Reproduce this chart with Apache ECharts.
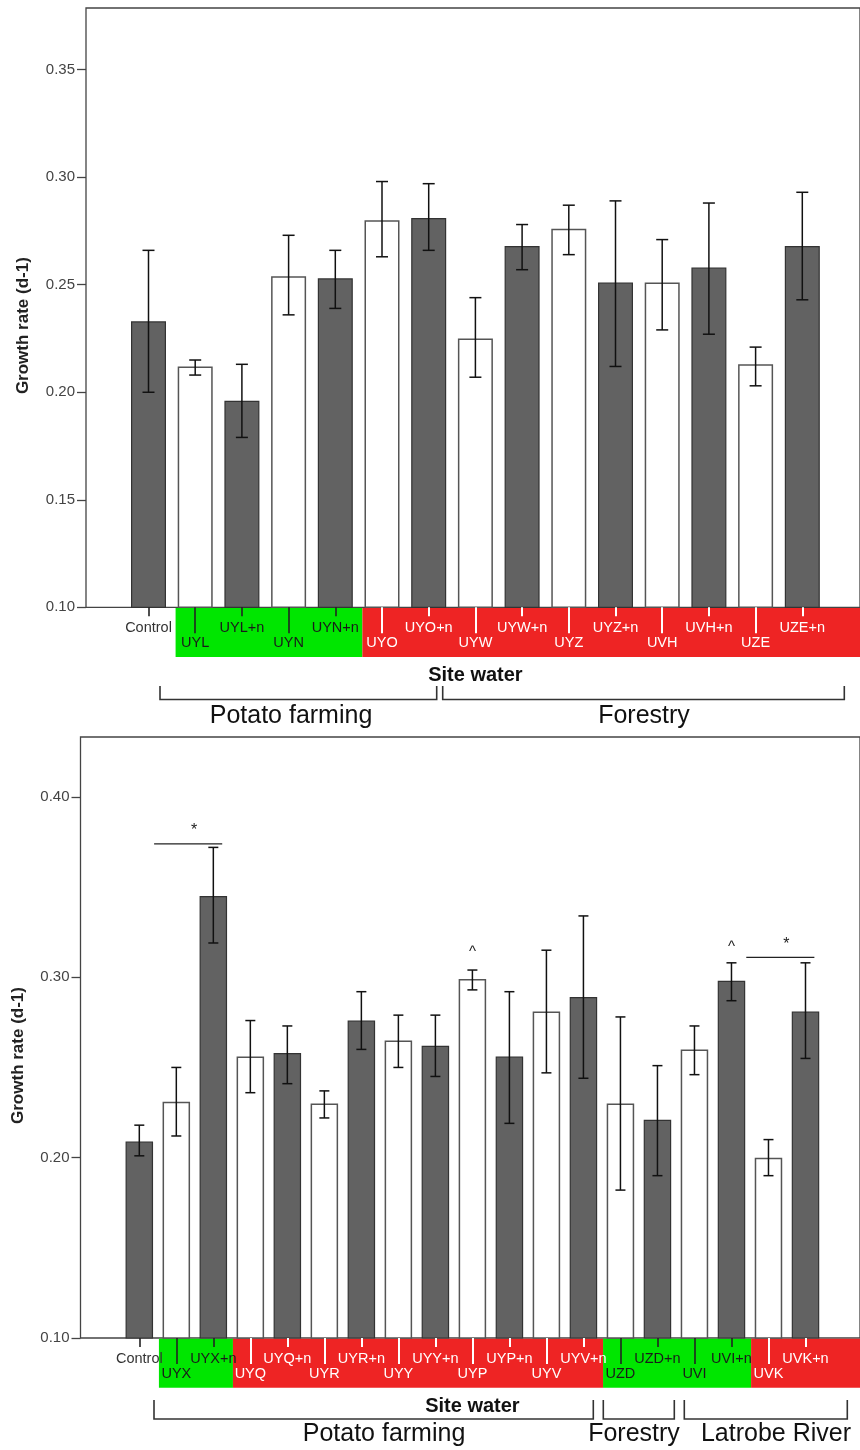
<!DOCTYPE html>
<html><head><meta charset="utf-8">
<script src="https://cdn.jsdelivr.net/npm/echarts@6/dist/echarts.min.js"></script>
<style>html,body{margin:0;padding:0;background:#fff}#c{width:860px;height:1450px}</style>
</head><body><div id="c"></div>
<script>
// ---------- Data: top panel ----------
const catsTop = ['Control','UYL','UYL+n','UYN','UYN+n','UYO','UYO+n','UYW','UYW+n','UYZ','UYZ+n','UVH','UVH+n','UZE','UZE+n'];
const meanTop = [0.233,0.212,0.196,0.254,0.253,0.280,0.281,0.225,0.268,0.276,0.251,0.251,0.258,0.213,0.268];
const lowTop  = [0.200,0.208,0.179,0.236,0.239,0.263,0.266,0.207,0.257,0.264,0.212,0.229,0.227,0.203,0.243];
const highTop = [0.266,0.215,0.213,0.273,0.266,0.298,0.297,0.244,0.278,0.287,0.289,0.271,0.288,0.221,0.293];
const yTicksTop = [0.10,0.15,0.20,0.25,0.30,0.35];
const zonesTop = [{from:'UYL', kind:'green'},{from:'UYO', kind:'red'}];
const groupsTop = ['Potato farming','Forestry'];

// ---------- Data: bottom panel ----------
const catsBot = ['Control','UYX','UYX+n','UYQ','UYQ+n','UYR','UYR+n','UYY','UYY+n','UYP','UYP+n','UYV','UYV+n','UZD','UZD+n','UVI','UVI+n','UVK','UVK+n'];
const meanBot = [0.209,0.231,0.345,0.256,0.258,0.230,0.276,0.265,0.262,0.299,0.256,0.281,0.289,0.230,0.221,0.260,0.298,0.200,0.281];
const lowBot  = [0.201,0.212,0.319,0.236,0.241,0.222,0.260,0.250,0.245,0.293,0.219,0.247,0.244,0.182,0.190,0.246,0.287,0.190,0.255];
const highBot = [0.218,0.250,0.372,0.276,0.273,0.237,0.292,0.279,0.279,0.304,0.292,0.315,0.334,0.278,0.251,0.273,0.308,0.210,0.308];
const yTicksBot = [0.10,0.20,0.30,0.40];
const zonesBot = [{from:'UYX', kind:'green'},{from:'UYQ', kind:'red'},{from:'UZD', kind:'green'},{from:'UVK', kind:'red'}];
const groupsBot = ['Potato farming','Forestry','Latrobe River'];
const sigBot = [{from:'UYX', to:'UYX+n', y:0.374},{from:'UVK', to:'UVK+n', y:0.311}];
const caretBot = [{cat:'UYP', y:0.314},{cat:'UVI+n', y:0.317}];

const FONT = '"Liberation Sans", Arial, Helvetica, sans-serif';
const ZONE_FILL = {green:'#00e600', red:'#ee2424'};
const ZONE_TEXT = {none:'#333333', green:'#1a1a1a', red:'#ffffff'};
const LABEL_RICH = {};
Object.keys(ZONE_TEXT).forEach(k => { LABEL_RICH[k] = {color:ZONE_TEXT[k], fontSize:14.5, fontFamily:FONT}; });

const panels = [
  {cats:catsTop, mean:meanTop, low:lowTop, high:highTop, yTicks:yTicksTop, yMin:0.10, yMax:0.3787, interval:0.05,
   frameLeft:86, top:8, bottom:607.3, barLeft:125.15, barRight:825.65, barWidth:35, cap:6, zones:zonesTop,
   zoneOffset:0.42, sig:[], carets:[], nameGap:58},
  {cats:catsBot, mean:meanBot, low:lowBot, high:highBot, yTicks:yTicksBot, yMin:0.10, yMax:0.4332, interval:0.1,
   frameLeft:80.5, top:737, bottom:1338, barLeft:120.8, barRight:824.0, barWidth:27.5, cap:5, zones:zonesBot,
   zoneOffset:0.47, sig:sigBot, carets:caretBot, nameGap:58}
];

function zoneOf(p, idx){
  let kind = 'none';
  p.zones.forEach(z => { if (idx >= p.cats.indexOf(z.from)) kind = z.kind; });
  return kind;
}
function isDark(name){ return name === 'Control' || name.endsWith('+n'); }

const grid = [], xAxis = [], yAxis = [], series = [];
panels.forEach((p, pi) => {
  const fg = grid.length;
  grid.push({left:p.frameLeft, right:-6, top:p.top, height:p.bottom - p.top, show:true,
             borderColor:'#444', borderWidth:1.3, backgroundColor:'transparent'});
  const bg = grid.length;
  grid.push({left:p.barLeft, width:p.barRight - p.barLeft, top:p.top, height:p.bottom - p.top});

  xAxis.push({gridIndex:fg, type:'value', show:false, min:0, max:1});
  yAxis.push({gridIndex:fg, type:'value', min:p.yMin, max:p.yMax, interval:p.interval,
    axisLine:{show:false}, splitLine:{show:false},
    axisTick:{show:true, length:9, customValues:p.yTicks, lineStyle:{color:'#444', width:1.3}},
    axisLabel:{customValues:p.yTicks, formatter:v => v.toFixed(2), margin:11, color:'#444', fontSize:15, fontFamily:FONT},
    name:'Growth rate (d-1)', nameLocation:'middle', nameGap:54,
    nameTextStyle:{fontSize:17, fontWeight:'bold', color:'#222', fontFamily:FONT, padding:[0, 36, 0, 0]}});
  const by = yAxis.length;
  yAxis.push({gridIndex:bg, type:'value', min:p.yMin, max:p.yMax, show:false});

  // four category axes: (row parity x tick colour)
  const mk = (parity, red, withLabel, isMain) => {
    const ax = {gridIndex:bg, type:'category', data:p.cats, position:'bottom', z:5,
      axisLine:{show:false}, splitLine:{show:false},
      axisTick:{show:true, alignWithLabel:true, length: parity ? 26 : 9,
        interval:(i) => (i % 2 === parity) && ((zoneOf(p, i) === 'red') === red),
        lineStyle:{color: red ? '#ffffff' : '#222', width: red ? 2 : 1.6}},
      axisLabel:{show:withLabel, interval:(i) => i % 2 === parity, margin: parity ? 28 : 13,
        fontSize:14.5, fontFamily:FONT,
        formatter:(v, i) => '{' + zoneOf(p, i) + '|' + v + '}', rich:LABEL_RICH}};
    if (isMain) {
      ax.name = 'Site water'; ax.nameLocation = 'middle'; ax.nameGap = p.nameGap;
      ax.nameTextStyle = {fontSize:20, fontWeight:'bold', color:'#111', fontFamily:FONT};
    }
    return ax;
  };
  const x0 = xAxis.length;
  xAxis.push(mk(0, false, true, true));
  xAxis.push(mk(1, false, true, false));
  xAxis.push(mk(0, true, false, false));
  xAxis.push(mk(1, true, false, false));

  // coloured label bands
  series.push({type:'custom', xAxisIndex:x0, yAxisIndex:by, z:1, clip:false, silent:true,
    data:p.zones.map(z => [z.from, p.yMin]),
    encode:{x:0, y:1},
    renderItem:(params, api) => {
      const k = params.dataIndex;
      const band = api.size([1, 0])[0];
      const c = api.coord([api.value(0), p.yMin]);
      const x1 = c[0] - p.zoneOffset * band;
      let x2;
      if (k + 1 < p.zones.length) {
        const c2 = api.coord([p.cats.indexOf(p.zones[k+1].from), p.yMin]);
        x2 = c2[0] - p.zoneOffset * band;
      } else x2 = api.getWidth();
      return {type:'rect', shape:{x:x1, y:c[1] + 0.7, width:x2 - x1, height:49},
              style:{fill:ZONE_FILL[p.zones[k].kind]}};
    }});

  // bars
  series.push({type:'bar', xAxisIndex:x0, yAxisIndex:by, barWidth:p.barWidth, z:2,
    data:p.mean.map((v, i) => ({value:v, itemStyle: isDark(p.cats[i])
      ? {color:'#626262', borderColor:'#333', borderWidth:1.2}
      : {color:'#ffffff', borderColor:'#555', borderWidth:1.5}}))});

  // error bars
  series.push({type:'custom', xAxisIndex:x0, yAxisIndex:by, z:3, clip:false, silent:true,
    data:p.cats.map((c, i) => [c, p.low[i], p.high[i]]),
    encode:{x:0, y:[1, 2]},
    renderItem:(params, api) => {
      const t = api.coord([api.value(0), api.value(2)]);
      const b = api.coord([api.value(0), api.value(1)]);
      const x = t[0], w = p.cap, st = {stroke:'#111', lineWidth:1.5};
      return {type:'group', children:[
        {type:'line', shape:{x1:x, y1:t[1], x2:x, y2:b[1]}, style:st},
        {type:'line', shape:{x1:x - w, y1:t[1], x2:x + w, y2:t[1]}, style:st},
        {type:'line', shape:{x1:x - w, y1:b[1], x2:x + w, y2:b[1]}, style:st}]};
    }});

  // significance lines
  if (p.sig.length) series.push({type:'custom', xAxisIndex:x0, yAxisIndex:by, z:4, clip:false, silent:true,
    data:p.sig.map(s => [s.from, s.to, s.y]),
    encode:{x:[0, 1], y:2},
    renderItem:(params, api) => {
      const band = api.size([1, 0])[0];
      const a = api.coord([api.value(0), api.value(2)]);
      const b = api.coord([api.value(1), api.value(2)]);
      const xa = a[0] - 0.6 * band, xb = b[0] + 0.24 * band;
      return {type:'group', children:[
        {type:'line', shape:{x1:xa, y1:a[1], x2:xb, y2:a[1]}, style:{stroke:'#222', lineWidth:1.3}},
        {type:'text', x:(xa + xb) / 2 + 6, y:a[1] - 5,
         style:{text:'*', fontSize:16, fontFamily:FONT, fill:'#222', align:'center', verticalAlign:'bottom'}}]};
    }});
  if (p.carets.length) series.push({type:'custom', xAxisIndex:x0, yAxisIndex:by, z:4, clip:false, silent:true,
    data:p.carets.map(c => [c.cat, c.y]),
    encode:{x:0, y:1},
    renderItem:(params, api) => {
      const a = api.coord([api.value(0), api.value(1)]);
      return {type:'text', x:a[0], y:a[1],
        style:{text:'^', fontSize:15, fontFamily:FONT, fill:'#222', align:'center', verticalAlign:'middle'}};
    }});
});

// group brackets & labels (annotation graphics)
const br = (x1, x2, yT, yB) => ({type:'polyline', shape:{points:[[x1, yT],[x1, yB],[x2, yB],[x2, yT]]},
  style:{stroke:'#333', lineWidth:1.6, fill:null}});
const gtxt = (t, x, y) => ({type:'text', x:x, y:y, style:{text:t, fontSize:25, fontFamily:FONT, fill:'#111',
  align:'center', verticalAlign:'middle'}});
const graphic = [
  br(160, 436.7, 686, 699.5), br(442.7, 844.3, 686, 699.5),
  gtxt(groupsTop[0], 291, 716), gtxt(groupsTop[1], 644, 716),
  br(154, 593.3, 1400, 1419), br(603.3, 674.3, 1400, 1419), br(684.3, 847.3, 1400, 1419),
  gtxt(groupsBot[0], 384, 1434), gtxt(groupsBot[1], 634, 1434), gtxt(groupsBot[2], 776, 1434)
];

const chart = echarts.init(document.getElementById('c'));
chart.setOption({animation:false, backgroundColor:'#fff', grid, xAxis, yAxis, series, graphic});
</script></body></html>
